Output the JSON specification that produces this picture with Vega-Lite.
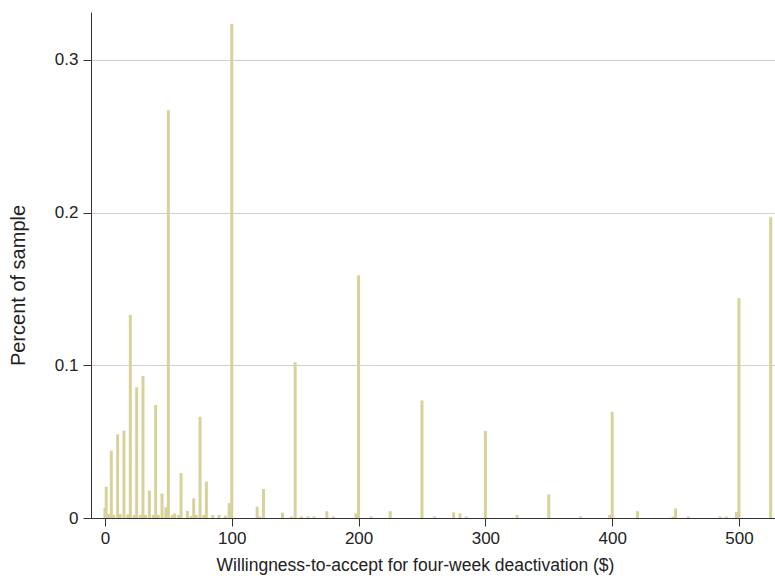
{
  "$schema": "https://vega.github.io/schema/vega-lite/v6.json",
  "width": 684,
  "height": 506,
  "autosize": {"type": "none"},
  "padding": {"left": 91, "top": 12, "right": 0, "bottom": 64},
  "background": "white",
  "config": {
    "font": "Liberation Sans",
    "view": {"stroke": null}
  },
  "data": {
    "values": [
      {"wta": 0, "pct": 0.0065}, {"wta": 1, "pct": 0.0205}, {"wta": 3, "pct": 0.0026},
      {"wta": 5, "pct": 0.044}, {"wta": 7, "pct": 0.002}, {"wta": 10, "pct": 0.0548},
      {"wta": 12, "pct": 0.0026}, {"wta": 15, "pct": 0.0572}, {"wta": 18, "pct": 0.0024},
      {"wta": 20, "pct": 0.133}, {"wta": 23, "pct": 0.002}, {"wta": 25, "pct": 0.0856},
      {"wta": 28, "pct": 0.002}, {"wta": 30, "pct": 0.093}, {"wta": 32, "pct": 0.002},
      {"wta": 35, "pct": 0.018}, {"wta": 38, "pct": 0.002}, {"wta": 40, "pct": 0.074},
      {"wta": 42, "pct": 0.002}, {"wta": 45, "pct": 0.016}, {"wta": 48, "pct": 0.007},
      {"wta": 50, "pct": 0.267}, {"wta": 53, "pct": 0.002}, {"wta": 55, "pct": 0.003},
      {"wta": 58, "pct": 0.002}, {"wta": 60, "pct": 0.0295}, {"wta": 65, "pct": 0.0046},
      {"wta": 68, "pct": 0.0013}, {"wta": 70, "pct": 0.0129}, {"wta": 72, "pct": 0.002},
      {"wta": 75, "pct": 0.0663}, {"wta": 78, "pct": 0.002}, {"wta": 80, "pct": 0.0238},
      {"wta": 85, "pct": 0.002}, {"wta": 90, "pct": 0.002}, {"wta": 95, "pct": 0.0015},
      {"wta": 98, "pct": 0.0098}, {"wta": 100, "pct": 0.3235}, {"wta": 120, "pct": 0.0074},
      {"wta": 122, "pct": 0.001}, {"wta": 125, "pct": 0.019}, {"wta": 140, "pct": 0.0035},
      {"wta": 147, "pct": 0.001}, {"wta": 150, "pct": 0.102}, {"wta": 155, "pct": 0.001},
      {"wta": 160, "pct": 0.001}, {"wta": 165, "pct": 0.001}, {"wta": 175, "pct": 0.0045},
      {"wta": 180, "pct": 0.001}, {"wta": 198, "pct": 0.003}, {"wta": 200, "pct": 0.159},
      {"wta": 210, "pct": 0.001}, {"wta": 225, "pct": 0.0045}, {"wta": 250, "pct": 0.077},
      {"wta": 260, "pct": 0.001}, {"wta": 275, "pct": 0.0037}, {"wta": 280, "pct": 0.003},
      {"wta": 285, "pct": 0.001}, {"wta": 300, "pct": 0.057}, {"wta": 325, "pct": 0.002},
      {"wta": 350, "pct": 0.0155}, {"wta": 375, "pct": 0.001}, {"wta": 398, "pct": 0.002},
      {"wta": 400, "pct": 0.0696}, {"wta": 420, "pct": 0.0045}, {"wta": 448, "pct": 0.001},
      {"wta": 450, "pct": 0.0063}, {"wta": 460, "pct": 0.001}, {"wta": 485, "pct": 0.001},
      {"wta": 490, "pct": 0.001}, {"wta": 498, "pct": 0.004}, {"wta": 500, "pct": 0.144},
      {"wta": 525, "pct": 0.197}
    ]
  },
  "mark": {"type": "bar", "size": 3, "color": "#d8d29a", "clip": true},
  "encoding": {
    "x": {
      "field": "wta",
      "type": "quantitative",
      "scale": {"domain": [-11, 528.4], "nice": false, "zero": false, "padding": 0},
      "axis": {
        "values": [0, 100, 200, 300, 400, 500],
        "grid": false,
        "title": "Willingness-to-accept for four-week deactivation ($)",
        "titleFontSize": 17.5,
        "titleFontWeight": "normal",
        "titleColor": "#222222",
        "titleX": 324,
        "titlePadding": 10,
        "labelFontSize": 17,
        "labelColor": "#222222",
        "labelPadding": 4,
        "tickSize": 8,
        "tickColor": "#333333",
        "domainColor": "#333333",
        "labelFlush": false
      }
    },
    "y": {
      "field": "pct",
      "type": "quantitative",
      "scale": {"domain": [0, 0.3314], "nice": false, "padding": 0},
      "axis": {
        "values": [0, 0.1, 0.2, 0.3],
        "format": ".1~f",
        "grid": true,
        "gridColor": "#cfcfcf",
        "title": "Percent of sample",
        "titleFontSize": 20,
        "titleFontWeight": "normal",
        "titleColor": "#222222",
        "titleY": 273,
        "titlePadding": 26,
        "labelFontSize": 17,
        "labelColor": "#222222",
        "labelPadding": 5,
        "tickSize": 8,
        "tickColor": "#333333",
        "domainColor": "#333333"
      }
    }
  }
}
